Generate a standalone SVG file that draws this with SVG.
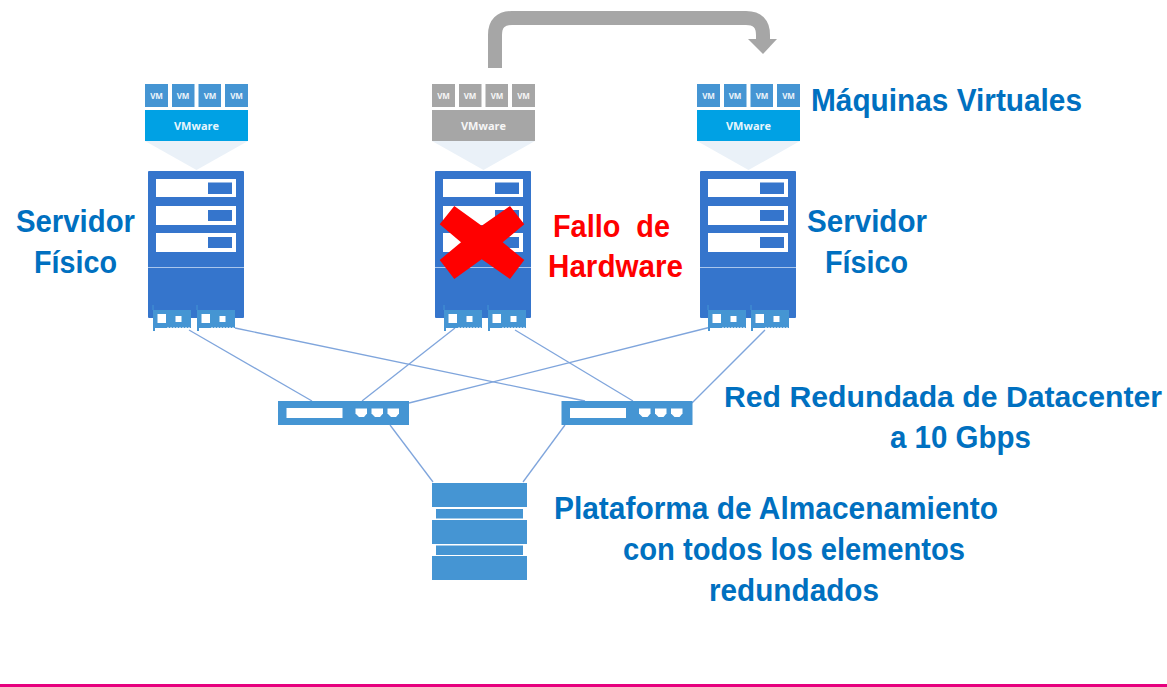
<svg xmlns="http://www.w3.org/2000/svg" xmlns:xlink="http://www.w3.org/1999/xlink" width="1167" height="687" viewBox="0 0 1167 687">
<style>
.t{font-family:"Liberation Sans",Arial,sans-serif;font-weight:700;font-size:31px;fill:#0070c0}
.r{fill:#f00}
.vm{font-family:"Open Sans","Liberation Sans",sans-serif;font-weight:700;font-size:8px;fill:#fff;text-anchor:middle;opacity:.9}
.vw{font-family:"Open Sans","Liberation Sans",sans-serif;font-weight:700;font-size:11px;fill:#fff;text-anchor:middle;opacity:.9}
.b{fill:#3575cc}
.n{fill:#4595d3}
.w{fill:#fff}
.l{stroke:#7fa5dc;stroke-width:1.3;fill:none}
</style>
<defs>
<g id="stack">
<path d="M145 141H248L196.500 170Z" fill="#eaf1f8"/>
<rect x="145" y="84" width="23" height="23"/><rect x="172" y="84" width="22.500" height="23"/><rect x="198.500" y="84" width="22.500" height="23"/><rect x="225" y="84" width="23" height="23"/>
<rect x="145" y="110" width="103" height="31" fill="currentColor"/>
<text class="vm" x="156.500" y="98.500">VM</text><text class="vm" x="183" y="98.500">VM</text><text class="vm" x="210" y="98.500">VM</text><text class="vm" x="236.500" y="98.500">VM</text>
<text class="vw" x="196.500" y="129.500">VMware</text>
</g>
<g id="nic">
<path class="n" d="M153 310V331H155V328H191V310Z"/>
<path d="M153 305V310" stroke="#4595d3" stroke-width="1"/>
<rect class="w" x="157.500" y="314" width="8.500" height="9"/><rect class="w" x="175.500" y="316" width="6" height="6"/>
<path d="M167 327.500H190" stroke="#a9cdea" stroke-width="1" stroke-dasharray="2 1"/>
</g>
<g id="server">
<rect class="b" x="148" y="171" width="96" height="147" rx="1"/>
<line x1="148" y1="267.500" x2="244" y2="267.500" stroke="#a9c6ec" stroke-width="1"/>
<rect class="w" x="156" y="179" width="80" height="18"/><rect class="b" x="208" y="182.500" width="24" height="11.500"/>
<rect class="w" x="156" y="206" width="80" height="19"/><rect class="b" x="208" y="210" width="24" height="11"/>
<rect class="w" x="156" y="233" width="80" height="19"/><rect class="b" x="208" y="237" width="24" height="11"/>
</g>
<g id="switch">
<rect class="n" x="278" y="401" width="131" height="24"/>
<rect class="w" x="286.500" y="408" width="56" height="10"/>
<path class="w" d="M355.500 408.500H367V413.500L364 417H359L355.500 413.500Z"/>
<path class="w" d="M371.500 408.500H383V413.500L380 417H375L371.500 413.500Z"/>
<path class="w" d="M387.500 408.500H399V413.500L396 417H391L387.500 413.500Z"/>
</g>
</defs>
<g id="connectors">
<path class="l" d="M189 330L312 401"/>
<path class="l" d="M235 328L585 401"/>
<path class="l" d="M455 328L362 401"/>
<path class="l" d="M515 330L633 401"/>
<path class="l" d="M711 327L409 403"/>
<path class="l" d="M765 330L692 403"/>
<path class="l" d="M390 425L433 482"/>
<path class="l" d="M565 425L523 482"/>
<path d="M495 68V35Q495 18 512 18H746Q763 18 763 35V40" fill="none" stroke="#a6a6a6" stroke-width="14"/>
<path d="M748 39H777L763 54Z" fill="#a6a6a6"/>
</g>
<g id="server-1">
<use xlink:href="#stack" fill="#4595d3" color="#00a1e4"/>
<use xlink:href="#server"/>
<use xlink:href="#nic"/><use xlink:href="#nic" x="44"/>
<text class="t" x="16" y="232" textLength="119" lengthAdjust="spacingAndGlyphs">Servidor</text>
<text class="t" x="34" y="273" textLength="83" lengthAdjust="spacingAndGlyphs">Físico</text>
</g>
<g id="server-2">
<use xlink:href="#stack" x="287" fill="#a6a6a6" color="#a6a6a6"/>
<use xlink:href="#server" x="287"/>
<use xlink:href="#nic" x="291"/><use xlink:href="#nic" x="335"/>
<path class="r" d="M454.300 206L481.700 225.700L510 206L524.300 224.300L502.700 242.300L524.300 260L510 279L481.700 259.300L454.300 279L439.700 260L461 242.300L439.700 224.300Z"/>
<text class="t r" x="553" y="237" textLength="117" lengthAdjust="spacingAndGlyphs" xml:space="preserve">Fallo  de</text>
<text class="t r" x="548" y="277" textLength="135" lengthAdjust="spacingAndGlyphs">Hardware</text>
</g>
<g id="server-3">
<use xlink:href="#stack" x="552" fill="#4595d3" color="#00a1e4"/>
<use xlink:href="#server" x="552"/>
<use xlink:href="#nic" x="555"/><use xlink:href="#nic" x="598"/>
<text class="t" x="811" y="111" textLength="271" lengthAdjust="spacingAndGlyphs">Máquinas Virtuales</text>
<text class="t" x="807" y="232" textLength="120" lengthAdjust="spacingAndGlyphs">Servidor</text>
<text class="t" x="825" y="273" textLength="83" lengthAdjust="spacingAndGlyphs">Físico</text>
</g>
<g id="switch-1"><use xlink:href="#switch"/></g>
<g id="switch-2"><use xlink:href="#switch" x="283.500"/></g>
<g id="network-label">
<text class="t" x="724" y="407" style="font-size:30px" textLength="438" lengthAdjust="spacingAndGlyphs">Red Redundada de Datacenter</text>
<text class="t" x="890" y="448" textLength="141" lengthAdjust="spacingAndGlyphs">a 10 Gbps</text>
</g>
<g id="storage">
<rect class="n" x="432" y="483" width="95" height="24"/>
<rect class="n" x="436" y="509" width="87" height="9.500"/>
<rect class="n" x="432" y="520" width="95" height="24"/>
<rect class="n" x="436" y="545.500" width="87" height="9.500"/>
<rect class="n" x="432" y="556" width="95" height="24"/>
<text class="t" x="554" y="519" textLength="444" lengthAdjust="spacingAndGlyphs">Plataforma de Almacenamiento</text>
<text class="t" x="623" y="560" textLength="342" lengthAdjust="spacingAndGlyphs">con todos los elementos</text>
<text class="t" x="709" y="601" textLength="170" lengthAdjust="spacingAndGlyphs">redundados</text>
</g>
<rect id="bottom-rule" x="0" y="684" width="1167" height="3" fill="#e6007e"/>
</svg>
